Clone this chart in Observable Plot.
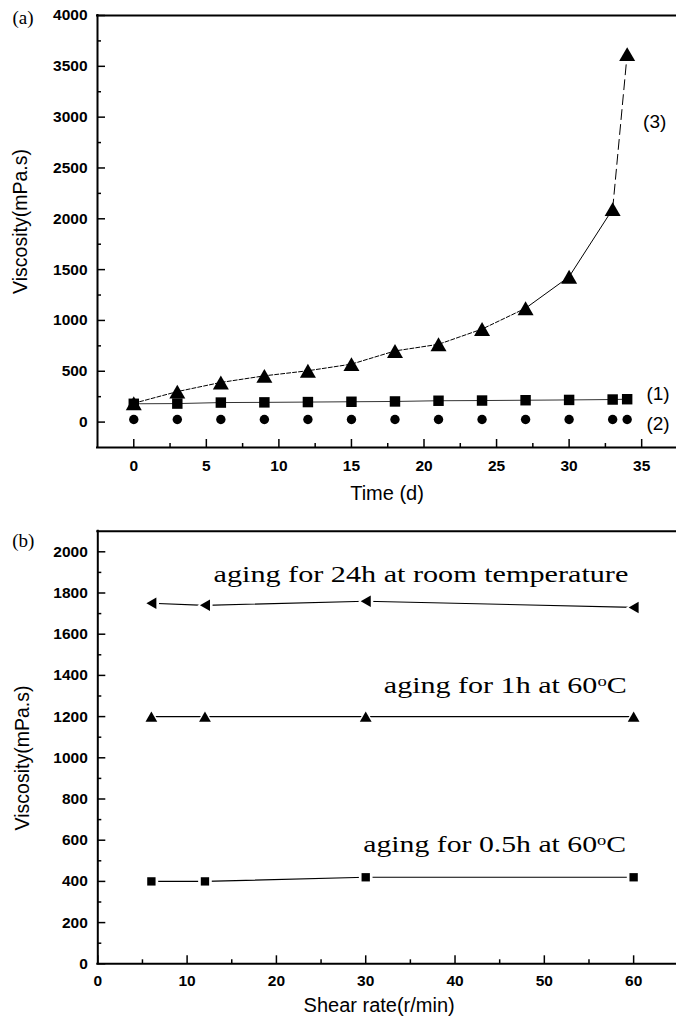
<!DOCTYPE html>
<html><head><meta charset="utf-8">
<script src="https://cdn.jsdelivr.net/npm/d3@7"></script>
<script src="https://cdn.jsdelivr.net/npm/@observablehq/plot@0.6"></script>
<style>
html,body{margin:0;padding:0;background:#fff;overflow:hidden;}
#chart{position:relative;width:676px;height:1017px;}
#chart svg{position:absolute;left:0;display:block;}
</style></head><body><div id="chart"></div>
<script>
// ---------- Panel (a): viscosity vs time ----------
const timeDays = [0, 3, 6, 9, 12, 15, 18, 21, 24, 27, 30, 33, 34];
const viscCurve1 = [180, 182, 192, 194, 197, 200, 203, 210, 212, 215, 218, 222, 225];
const viscCurve2 = [25, 25, 25, 25, 25, 25, 25, 25, 25, 25, 25, 25, 25];
const viscCurve3 = [185, 300, 390, 455, 505, 570, 700, 765, 915, 1120, 1430, 2095, 3620];
const xDomainA = [-2.5, 37.4];
const yDomainA = [-250, 4000];
const xTicksA = [0, 5, 10, 15, 20, 25, 30, 35];
const xMinorA = [2.5, 7.5, 12.5, 17.5, 22.5, 27.5, 32.5];
const yTicksA = [0, 500, 1000, 1500, 2000, 2500, 3000, 3500, 4000];
const yMinorA = [250, 750, 1250, 1750, 2250, 2750, 3250, 3750];
const curveLabelsA = [
  {label: "(3)", x: 35.1, y: 2953},
  {label: "(1)", x: 35.33, y: 273},
  {label: "(2)", x: 35.33, y: -16}
];

// ---------- Panel (b): viscosity vs shear rate ----------
const shearRate = [6, 12, 30, 60];
const viscRoom24h = [1750, 1740, 1760, 1730];
const visc60C1h = [1200, 1200, 1200, 1200];
const visc60C05h = [400, 400, 420, 420];
const xDomainB = [0, 64.8];
const yDomainB = [0, 2100];
const xTicksB = [0, 10, 20, 30, 40, 50, 60];
const xMinorB = [5, 15, 25, 35, 45, 55];
const yTicksB = [0, 200, 400, 600, 800, 1000, 1200, 1400, 1600, 1800, 2000];
const yMinorB = [100, 300, 500, 700, 900, 1100, 1300, 1500, 1700, 1900];
const seriesLabelsB = [
  {label: "aging for 24h at room temperature", x: 12.96, y: 1853, w: 415},
  {label: "aging for 1h at 60°C", x: 32.03, y: 1314, w: 243},
  {label: "aging for 0.5h at 60°C", x: 29.72, y: 542, w: 263}
];

const SANS = "'Liberation Sans', Arial, Helvetica, sans-serif";
const SERIF = "'Liberation Serif', 'Times New Roman', Times, serif";
const fmt = d => String(d);

const zipXY = (xs, ys) => xs.map((x, i) => ({x, y: ys[i]}));
const s1 = zipXY(timeDays, viscCurve1);
const s2 = zipXY(timeDays, viscCurve2);
const s3 = zipXY(timeDays, viscCurve3);
const b1 = zipXY(shearRate, viscRoom24h);
const b2 = zipXY(shearRate, visc60C1h);
const b3 = zipXY(shearRate, visc60C05h);

// custom symbols, bbox-centred; "diameter" = 2r
const triUp = {draw(ctx, size) {
  const w = 2 * Math.sqrt(size / Math.PI), h = w * 0.87;
  ctx.moveTo(0, -h / 2); ctx.lineTo(w / 2, h / 2); ctx.lineTo(-w / 2, h / 2); ctx.closePath();
}};
const triLeft = {draw(ctx, size) {
  const w = 2 * Math.sqrt(size / Math.PI), h = w * 0.87;
  ctx.moveTo(-h / 2, 0); ctx.lineTo(h / 2, -w / 2); ctx.lineTo(h / 2, w / 2); ctx.closePath();
}};

function frameMarks(xDom, yDom, xMaj, xMin, yMaj, yMin, fw, fh) {
  return [
    Plot.ruleX(xMaj, {insetTop: fh - 8, strokeWidth: 1.5}),
    Plot.ruleX(xMin, {insetTop: fh - 4, strokeWidth: 1.5}),
    Plot.ruleY(yMaj, {insetRight: fw - 8, strokeWidth: 1.5}),
    Plot.ruleY(yMin, {insetRight: fw - 4, strokeWidth: 1.5}),
    Plot.ruleY([yDom[0], yDom[1]], {strokeWidth: 2, strokeLinecap: "square"}),
    Plot.ruleX([xDom[0]], {strokeWidth: 2, strokeLinecap: "square"})
  ];
}

const TICK_FS = 15.5, XT_FS = 20, YT_FS = 19.5;

// ---------- Plot A ----------
const WA = 676, HA = 505, MLA = 97, MTA = 15, MBA = 58;
const plotA = Plot.plot({
  width: WA, height: HA,
  marginLeft: MLA, marginRight: 0, marginTop: MTA, marginBottom: MBA,
  x: {domain: xDomainA},
  y: {domain: yDomainA},
  style: {background: "transparent", color: "#000", overflow: "visible", fontFamily: SANS},
  marks: [
    ...frameMarks(xDomainA, yDomainA, xTicksA, xMinorA, yTicksA, yMinorA, WA - MLA, HA - MTA - MBA),
    Plot.axisX(xTicksA, {tickSize: 0, tickPadding: 12, tickFormat: fmt, fontSize: TICK_FS, fontWeight: "bold", fontFamily: SANS, label: null}),
    Plot.axisY(yTicksA, {tickSize: 0, tickPadding: 10, tickFormat: fmt, fontSize: TICK_FS, fontWeight: "bold", fontFamily: SANS, label: null}),
    Plot.text(["Time (d)"], {frameAnchor: "bottom", dy: 52, textAnchor: "middle", lineAnchor: "bottom", fontSize: XT_FS, fontFamily: SANS}),
    Plot.text(["Viscosity(mPa.s)"], {frameAnchor: "left", dx: -77, dy: -10, rotate: -90, textAnchor: "middle", lineAnchor: "middle", fontSize: YT_FS, fontFamily: SANS}),
    Plot.text(["(a)"], {frameAnchor: "top-left", dx: -85, dy: 8, textAnchor: "start", lineAnchor: "bottom", fontSize: 19, fontFamily: SERIF}),
    // curves
    Plot.line(s1, {x: "x", y: "y", stroke: "#333", strokeWidth: 1}),
    Plot.line(s3.filter(d => d.x <= 27), {x: "x", y: "y", stroke: "#000", strokeWidth: 1, strokeDasharray: "4,2"}),
    Plot.line(s3.filter(d => d.x >= 27 && d.x <= 33), {x: "x", y: "y", stroke: "#000", strokeWidth: 1}),
    Plot.line(s3.filter(d => d.x >= 33), {x: "x", y: "y", stroke: "#000", strokeWidth: 1, strokeDasharray: "10,5"}),
    Plot.dot(s3, {x: "x", y: "y", symbol: triUp, r: 8, fill: "#000", stroke: null}),
    Plot.dot(s2, {x: "x", y: "y", symbol: "circle", r: 4.7, fill: "#000", stroke: null}),
    Plot.dot(s1, {x: "x", y: "y", symbol: "square", r: 5.9, fill: "#000", stroke: null}),
    Plot.text(curveLabelsA, {x: "x", y: "y", text: "label", textAnchor: "start", lineAnchor: "middle", fontSize: 19, fontFamily: SANS})
  ]
});

// ---------- Plot B ----------
const WB = 676, HB = 512, MLB = 97.3, MTB = 25.7, MBB = 53.7;
const haloR = 3;
const plotB = Plot.plot({
  width: WB, height: HB,
  marginLeft: MLB, marginRight: 0, marginTop: MTB, marginBottom: MBB,
  x: {domain: xDomainB},
  y: {domain: yDomainB},
  style: {background: "transparent", color: "#000", overflow: "visible", fontFamily: SANS},
  marks: [
    ...frameMarks(xDomainB, yDomainB, xTicksB, xMinorB, yTicksB, yMinorB, WB - MLB, HB - MTB - MBB),
    Plot.axisX(xTicksB, {tickSize: 0, tickPadding: 11, tickFormat: fmt, fontSize: TICK_FS, fontWeight: "bold", fontFamily: SANS, label: null}),
    Plot.axisY(yTicksB, {tickSize: 0, tickPadding: 10, tickFormat: fmt, fontSize: TICK_FS, fontWeight: "bold", fontFamily: SANS, label: null}),
    Plot.text(["Shear rate(r/min)"], {frameAnchor: "bottom", dx: -8, dy: 48.4, textAnchor: "middle", lineAnchor: "bottom", fontSize: XT_FS, fontFamily: SANS}),
    Plot.text(["Viscosity(mPa.s)"], {frameAnchor: "left", dx: -75, dy: 10.5, rotate: -90, textAnchor: "middle", lineAnchor: "middle", fontSize: YT_FS, fontFamily: SANS}),
    Plot.text(["(b)"], {frameAnchor: "top-left", dx: -85.6, dy: 15.3, textAnchor: "start", lineAnchor: "bottom", fontSize: 19, fontFamily: SERIF}),
    Plot.line(b1, {x: "x", y: "y", stroke: "#000", strokeWidth: 1.1}),
    Plot.line(b2, {x: "x", y: "y", stroke: "#000", strokeWidth: 1.1}),
    Plot.line(b3, {x: "x", y: "y", stroke: "#000", strokeWidth: 1.1}),
    Plot.dot(b1, {x: "x", y: "y", symbol: triLeft, r: 5.75 + haloR, fill: "#fff", stroke: null}),
    Plot.dot(b2, {x: "x", y: "y", symbol: triUp, r: 5.9 + haloR, fill: "#fff", stroke: null}),
    Plot.dot(b3, {x: "x", y: "y", symbol: "square", r: 4.7 + haloR, fill: "#fff", stroke: null}),
    Plot.dot(b1, {x: "x", y: "y", symbol: triLeft, r: 5.75, fill: "#000", stroke: null}),
    Plot.dot(b2, {x: "x", y: "y", symbol: triUp, r: 5.9, fill: "#000", stroke: null}),
    Plot.dot(b3, {x: "x", y: "y", symbol: "square", r: 4.7, fill: "#000", stroke: null}),
    Plot.text(seriesLabelsB, {x: "x", y: "y", text: "label", textAnchor: "start", lineAnchor: "bottom", fontSize: 22.5, fontFamily: SERIF, className: "serieslabel"})
  ]
});

const chart = document.getElementById("chart");
plotA.style.top = "0px";
plotB.style.top = HA + "px";
chart.appendChild(plotA);
chart.appendChild(plotB);

// superscript "o" for degree and horizontal stretch to match the figure's lettering
d3.select(plotB).selectAll("g.serieslabel text").each(function(d, i) {
  const el = d3.select(this);
  const txt = seriesLabelsB[i].label;
  const k = txt.indexOf("°");
  if (k >= 0) {
    el.text(null);
    el.append("tspan").text(txt.slice(0, k));
    el.append("tspan").attr("font-size", "0.62em").attr("dy", "-0.5em").text("o");
    el.append("tspan").attr("dy", "0.31em").text(txt.slice(k + 1));
  }
  const natural = this.getComputedTextLength();
  const sx = seriesLabelsB[i].w / natural;
  const t = this.getAttribute("transform") || "";
  this.setAttribute("transform", t + ` scale(${sx},1)`);
});
</script>
</body></html>
